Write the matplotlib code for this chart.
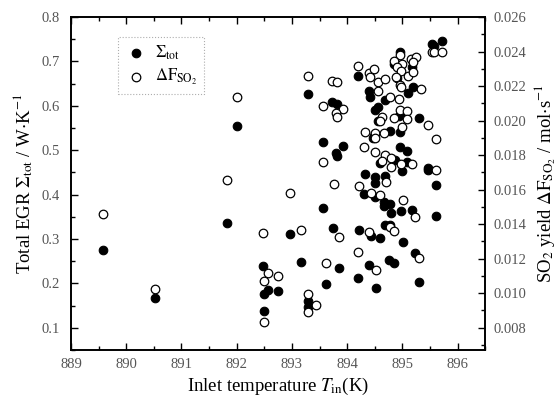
import matplotlib
matplotlib.use("Agg")
import matplotlib.pyplot as plt
from matplotlib.ticker import MultipleLocator, FormatStrFormatter

plt.rcParams['font.family'] = ['Liberation Serif', 'DejaVu Serif']
plt.rcParams['mathtext.fontset'] = 'stix'

# Total entropy generation rate (left axis)
t_sigma = [889.58, 890.52, 891.83, 892.01, 892.48, 892.50, 892.57, 892.74, 892.50, 892.97,
           893.17, 893.30, 893.30, 893.30, 893.57, 893.57, 893.61, 893.73, 893.82, 893.93,
           893.79, 893.82, 893.75, 893.86, 894.20, 894.39, 894.42, 894.50, 894.55, 894.68,
           894.55, 894.48, 894.46, 894.77, 894.59, 894.86, 894.33, 894.51, 894.68, 894.51,
           895.00, 895.46, 895.60, 894.30, 894.51, 894.66, 894.66, 894.77, 894.80, 894.97,
           895.18, 895.60, 894.22, 894.44, 894.59, 894.69, 894.77, 895.02, 895.22, 894.39,
           894.75, 894.84, 894.19, 894.53, 895.31, 894.95, 894.84, 895.18, 894.91, 895.20,
           895.11, 894.97, 894.93, 895.31, 894.95, 894.95, 895.08, 895.09, 895.53, 895.58,
           895.71, 895.46]
sigma_tot = [0.275, 0.167, 0.336, 0.555, 0.239, 0.176, 0.185, 0.183, 0.138, 0.311,
             0.248, 0.627, 0.160, 0.147, 0.518, 0.370, 0.199, 0.609, 0.604, 0.509,
             0.494, 0.487, 0.325, 0.235, 0.667, 0.633, 0.620, 0.591, 0.597, 0.613,
             0.566, 0.532, 0.527, 0.543, 0.471, 0.478, 0.446, 0.440, 0.442, 0.426,
             0.453, 0.455, 0.422, 0.401, 0.395, 0.383, 0.374, 0.379, 0.359, 0.363,
             0.365, 0.352, 0.320, 0.307, 0.302, 0.332, 0.332, 0.293, 0.268, 0.241,
             0.253, 0.246, 0.212, 0.190, 0.203, 0.721, 0.694, 0.687, 0.663, 0.642,
             0.629, 0.582, 0.577, 0.573, 0.541, 0.507, 0.498, 0.473, 0.739, 0.735,
             0.746, 0.460]

# SO2 yield (right axis)
t_so2 = [889.58, 890.52, 891.83, 892.01, 892.48, 892.57, 892.74, 892.50, 892.50, 892.97,
         893.17, 893.30, 893.30, 893.30, 893.43, 893.57, 893.57, 893.61, 893.73, 893.82,
         893.93, 893.79, 893.82, 893.77, 893.86, 894.20, 894.39, 894.48, 894.42, 894.55,
         894.68, 894.55, 894.77, 894.64, 894.59, 894.33, 894.51, 894.51, 894.66, 894.30,
         894.51, 894.68, 894.79, 894.64, 894.80, 894.71, 894.22, 894.44, 894.59, 895.02,
         895.22, 894.39, 894.77, 894.84, 894.19, 895.31, 894.53, 894.95, 894.84, 895.00,
         894.91, 894.97, 894.89, 895.15, 895.24, 895.20, 895.11, 895.20, 894.95, 894.98,
         895.33, 894.93, 894.95, 895.08, 894.84, 895.08, 895.00, 895.46, 895.60, 894.97,
         895.18, 895.60, 895.53, 895.58, 895.71]
dF_so2 = [0.01459, 0.01024, 0.01656, 0.02137, 0.01349, 0.01117, 0.01100, 0.01071, 0.00833, 0.01581,
          0.01366, 0.02258, 0.00995, 0.00891, 0.00932, 0.02084, 0.01760, 0.01175, 0.02229, 0.02224,
          0.02067, 0.02044, 0.02021, 0.01633, 0.01326, 0.02316, 0.02276, 0.02299, 0.02253, 0.02224,
          0.02241, 0.02171, 0.02137, 0.02021, 0.01998, 0.01934, 0.01928, 0.01899, 0.01928, 0.01847,
          0.01818, 0.01801, 0.01783, 0.01766, 0.01731, 0.01644, 0.01621, 0.01581, 0.01569, 0.01540,
          0.01441, 0.01355, 0.01384, 0.01360, 0.01239, 0.01204, 0.01134, 0.02380, 0.02345, 0.02328,
          0.02310, 0.02287, 0.02253, 0.02357, 0.02368, 0.02339, 0.02258, 0.02281, 0.02206, 0.02194,
          0.02183, 0.02125, 0.02061, 0.02055, 0.02015, 0.02009, 0.01963, 0.01974, 0.01893, 0.01749,
          0.01749, 0.01714, 0.02397, 0.02397, 0.02397]

tick_color = '#555555'

fig = plt.figure(figsize=(5.59, 4.0), dpi=100)
ax = fig.add_axes([0.127, 0.125, 0.741, 0.8325])
ax2 = ax.twinx()

h1 = ax.scatter(t_sigma, sigma_tot, s=38, color='black', edgecolors='black',
                linewidths=0.8, zorder=3, label=r'$\Sigma_{\mathrm{tot}}$')
h2 = ax2.scatter(t_so2, dF_so2, s=38, facecolors='white', edgecolors='black',
                 linewidths=0.9, zorder=3, label=r'$\mathrm{\Delta F}_{\mathrm{SO_2}}$')

ax.set_xlim(889, 896.5)
ax.set_ylim(0.05, 0.8)
ax2.set_ylim(0.00671, 0.026)

ax.xaxis.set_major_locator(MultipleLocator(1))
ax.xaxis.set_minor_locator(MultipleLocator(0.5))
ax.xaxis.set_major_formatter(FormatStrFormatter('%d'))
ax.yaxis.set_major_locator(MultipleLocator(0.1))
ax.yaxis.set_minor_locator(MultipleLocator(0.05))
ax.yaxis.set_major_formatter(FormatStrFormatter('%.1f'))
ax2.yaxis.set_major_locator(MultipleLocator(0.002))
ax2.yaxis.set_minor_locator(MultipleLocator(0.001))
ax2.yaxis.set_major_formatter(FormatStrFormatter('%.3f'))

ax.tick_params(axis='x', which='both', direction='in', top=True, bottom=True,
               labelsize=10.5, labelcolor=tick_color, pad=6)
ax.tick_params(axis='y', which='both', direction='in', left=True, right=False,
               labelsize=10.5, labelcolor=tick_color, pad=8)
ax2.tick_params(axis='y', which='both', direction='in', right=True,
                labelsize=10.5, labelcolor=tick_color, pad=6)
for a in (ax, ax2):
    a.tick_params(which='major', length=5, width=1.0)
    a.tick_params(which='minor', length=3, width=1.0)
    for sp in a.spines.values():
        sp.set_linewidth(1.2)

ax.set_xlabel(r'Inlet temperature $T_{\mathrm{in}}$(K)', fontsize=13.5, labelpad=3)
ax.set_ylabel(r'Total EGR $\Sigma_{\mathrm{tot}}$ / W$\cdot$K$^{-1}$', fontsize=13.5, labelpad=5)
ax2.set_ylabel(r'SO$_2$ yield $\mathrm{\Delta F}_{\mathrm{SO_2}}$ / mol$\cdot$s$^{-1}$',
               fontsize=13.5, labelpad=4)

leg = ax.legend(handles=[h1, h2], loc='upper left', bbox_to_anchor=(0.1135, 0.94),
                borderaxespad=0, frameon=True, fancybox=False, fontsize=12,
                handletextpad=0.4, handlelength=1.4, borderpad=0.4,
                labelspacing=0.3, scatterpoints=1)
frame = leg.get_frame()
frame.set_edgecolor('#999999')
frame.set_linestyle(':')
frame.set_linewidth(0.8)

fig.savefig('out.png', dpi=100)
